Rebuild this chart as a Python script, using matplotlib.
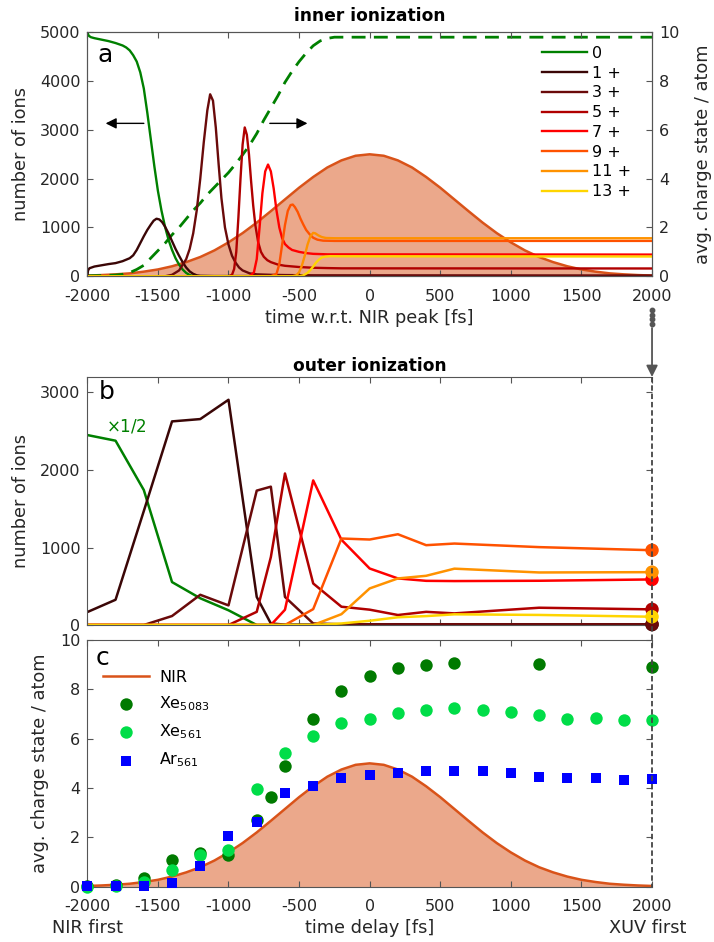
import numpy as np
import matplotlib
matplotlib.use("Agg")
import matplotlib.pyplot as plt
from matplotlib.lines import Line2D
from matplotlib.patches import FancyArrowPatch

plt.rcParams['font.family'] = ['DejaVu Sans']
plt.rcParams['mathtext.fontset'] = 'dejavusans'
plt.rcParams['axes.unicode_minus'] = False

TXT = '#262626'
AXC = '#555555'
NIR_C = '#d95319'

# ---------------- data: NIR envelope (avg. charge axis units) ----------------
t_nir = np.arange(-2000, 2001, 100)
nir = [0.03, 0.05, 0.08, 0.12, 0.19, 0.28, 0.41, 0.58, 0.79, 1.06, 1.39,
       1.77, 2.20, 2.67, 3.15, 3.63, 4.07, 4.46, 4.75, 4.94, 5.00,
       4.94, 4.75, 4.46, 4.07, 3.63, 3.15, 2.67, 2.20, 1.77, 1.39,
       1.06, 0.79, 0.58, 0.41, 0.28, 0.19, 0.12, 0.08, 0.05, 0.03]

# ---------------- data: inner ionization (panel a) ----------------
labels_a = ['0', '1 +', '3 +', '5 +', '7 +', '9 +', '11 +', '13 +']
colors = ['#008000', '#3a0606', '#6a0a0a', '#b00000', '#ff0000',
          '#ff5200', '#ff9200', '#ffd500']

t_q0 = [-2000, -1990, -1975, -1950, -1900, -1850, -1800, -1750, -1725, -1700,
        -1675, -1650, -1625, -1600, -1575, -1550, -1525, -1500, -1475, -1450,
        -1425, -1400, -1375, -1350, -1325, -1300, -1275, -1250, -1225, 2000]
n_q0 = [5000, 4930, 4900, 4880, 4850, 4820, 4780, 4730, 4690, 4630,
        4530, 4400, 4180, 3850, 3350, 2800, 2250, 1750, 1350, 1020,
        750, 540, 370, 240, 140, 70, 25, 5, 0, 0]

t_q1 = [-2000, -1995, -1985, -1950, -1900, -1850, -1800, -1750, -1700, -1675,
        -1650, -1625, -1600, -1575, -1550, -1530, -1510, -1490, -1470, -1450,
        -1425, -1400, -1375, -1350, -1325, -1300, -1275, -1250, -1225, -1200,
        -1100, 2000]
n_q1 = [0, 120, 165, 200, 225, 250, 270, 310, 370, 430,
        540, 680, 820, 950, 1060, 1140, 1180, 1165, 1110, 1020,
        880, 720, 560, 420, 290, 180, 100, 50, 20, 10,
        5, 5]

t_q3 = [-2000, -1450, -1400, -1350, -1300, -1275, -1250, -1225, -1200, -1175,
        -1150, -1130, -1110, -1090, -1070, -1050, -1025, -1000, -975, -950,
        -925, -900, -850, -800, -700, -600, -400, 2000]
n_q3 = [0, 0, 30, 120, 350, 560, 880, 1350, 2000, 2750,
        3400, 3730, 3600, 3050, 2300, 1600, 1000, 650, 420, 280,
        180, 120, 60, 40, 30, 25, 20, 15]

t_q5 = [-2000, -1000, -975, -960, -945, -930, -915, -900, -885, -870,
        -855, -840, -825, -810, -790, -770, -750, -725, -700, -650,
        -600, -500, -400, -300, -200, 2000]
n_q5 = [0, 0, 30, 150, 500, 1200, 2000, 2700, 3050, 2900,
        2500, 1950, 1450, 1050, 700, 500, 400, 330, 290, 240,
        215, 190, 175, 168, 163, 160]

t_q7 = [-2000, -850, -820, -800, -780, -760, -740, -720, -700, -680,
        -660, -640, -620, -600, -575, -550, -500, -450, -400, -300, 2000]
n_q7 = [0, 0, 80, 350, 1000, 1700, 2150, 2290, 2150, 1800,
        1350, 1000, 780, 660, 590, 540, 500, 475, 460, 450, 445]

t_q9 = [-2000, -700, -660, -640, -620, -600, -580, -560, -545, -530,
        -510, -490, -470, -450, -425, -400, -370, -330, -250, 2000]
n_q9 = [0, 0, 50, 250, 650, 1050, 1340, 1460, 1470, 1420,
        1320, 1180, 1060, 950, 860, 790, 750, 730, 725, 725]

t_q11 = [-2000, -550, -520, -500, -480, -460, -440, -420, -400, -385,
         -365, -340, -310, -250, 2000]
n_q11 = [0, 0, 20, 80, 220, 420, 650, 820, 890, 880,
         840, 805, 785, 780, 780]

t_q13 = [-2000, -500, -470, -440, -420, -400, -380, -360, -340, -310,
         -280, -200, 2000]
n_q13 = [0, 0, 20, 70, 130, 200, 280, 340, 385, 405, 412, 410, 405]

t_avg = [-2000, -1900, -1800, -1750, -1700, -1650, -1600, -1550, -1500, -1450,
         -1400, -1350, -1300, -1250, -1200, -1150, -1100, -1050, -1000, -950,
         -900, -850, -800, -750, -700, -650, -600, -550, -500, -450,
         -400, -350, -300, -250, 2000]
q_avg = [0.02, 0.03, 0.05, 0.08, 0.15, 0.28, 0.45, 0.75, 1.05, 1.35,
         1.70, 2.00, 2.35, 2.70, 3.00, 3.35, 3.65, 3.95, 4.25, 4.60,
         4.98, 5.38, 5.85, 6.40, 6.90, 7.40, 7.95, 8.40, 8.80, 9.15,
         9.45, 9.65, 9.75, 9.80, 9.80]

inner = [(t_q0, n_q0), (t_q1, n_q1), (t_q3, n_q3), (t_q5, n_q5),
         (t_q7, n_q7), (t_q9, n_q9), (t_q11, n_q11), (t_q13, n_q13)]

# ---------------- data: outer ionization (panel b) ----------------
t_out = [-2000, -1800, -1600, -1400, -1200, -1000, -800, -700, -600,
         -400, -200, 0, 200, 400, 600, 1200, 2000]
o_q0_half = [2451, 2378, 1742, 554, 345, 190, 0, 0, 0, 0, 0, 0, 0, 0, 0, 0, 0]
o_q1 = [167, 326, 1470, 2627, 2657, 2906, 362, 20, 5, 5, 5, 5, 5, 5, 5, 5, 5]
o_q3 = [0, 0, 0, 116, 390, 253, 1734, 1785, 362, 20, 10, 10, 10, 10, 10, 10, 10]
o_q5 = [0, 0, 0, 0, 0, 0, 170, 876, 1955, 536, 236, 198, 129, 170, 150, 223, 202]
o_q7 = [0, 0, 0, 0, 0, 0, 0, 0, 197, 1866, 1100, 729, 601, 570, 567, 571, 588]
o_q9 = [0, 0, 0, 0, 0, 0, 0, 0, 0, 205, 1116, 1103, 1171, 1030, 1051, 1005, 965]
o_q11 = [0, 0, 0, 0, 0, 0, 0, 0, 0, 0, 140, 472, 601, 635, 727, 678, 682]
o_q13 = [0, 0, 0, 0, 0, 0, 0, 0, 0, 0, 20, 55, 100, 115, 138, 130, 107]
outer = [o_q0_half, o_q1, o_q3, o_q5, o_q7, o_q9, o_q11, o_q13]

# ---------------- data: measured avg. charge state (panel c) ----------------
t_xe5083 = [-2000, -1800, -1600, -1400, -1200, -1000, -800, -700, -600,
            -400, -200, 0, 200, 400, 600, 1200, 2000]
q_xe5083 = [0.04, 0.07, 0.37, 1.09, 1.36, 1.29, 2.69, 3.65, 4.88,
            6.78, 7.93, 8.55, 8.88, 8.99, 9.08, 9.01, 8.92]
t_561 = [-2000, -1800, -1600, -1400, -1200, -1000, -800, -600, -400, -200,
         0, 200, 400, 600, 800, 1000, 1200, 1400, 1600, 1800, 2000]
q_xe561 = [0.0, 0.04, 0.20, 0.68, 1.27, 1.47, 3.95, 5.40, 6.10, 6.63,
           6.81, 7.03, 7.16, 7.26, 7.15, 7.08, 6.97, 6.81, 6.82, 6.74, 6.77]
q_ar561 = [0.03, 0.04, 0.04, 0.14, 0.84, 2.04, 2.63, 3.78, 4.08, 4.41,
           4.53, 4.61, 4.70, 4.70, 4.69, 4.59, 4.43, 4.41, 4.41, 4.34, 4.36]

xticks = [-2000, -1500, -1000, -500, 0, 500, 1000, 1500, 2000]

# ---------------- figure ----------------
fig = plt.figure(figsize=(7.14, 9.42), dpi=100)
L, W = 0.1223, 0.7909
ax_a = fig.add_axes([L, 0.7067, W, 0.2590])
ax_b = fig.add_axes([L, 0.3365, W, 0.2633])
ax_c = fig.add_axes([L, 0.0587, W, 0.2619])

TICK_FS = 11.5
LAB_FS = 12.8


def style(ax):
    for s in ax.spines.values():
        s.set_color(AXC)
        s.set_linewidth(0.8)
    ax.tick_params(direction='in', length=4.5, width=0.8, color=AXC,
                   labelcolor=TXT, labelsize=TICK_FS, pad=5)
    ax.tick_params(axis='x', pad=9)
    ax.set_xlim(-2000, 2000)
    ax.set_xticks(xticks)


# ---- panel a ----
twin = ax_a.twinx()
ax_a.set_zorder(twin.get_zorder() + 1)
ax_a.patch.set_visible(False)
style(ax_a)
style(twin)

twin.fill_between(t_nir, nir, 0, color=NIR_C, alpha=0.5, lw=0)
twin.plot(t_nir, nir, color=NIR_C, lw=1.8)
twin.plot(t_avg, q_avg, color='#008000', lw=2.0, ls='--', dashes=(5, 3))
twin.set_ylim(0, 10)
twin.set_yticks([0, 2, 4, 6, 8, 10])
twin.tick_params(left=False, right=True, top=False, bottom=False)
twin.set_ylabel('avg. charge state / atom', fontsize=LAB_FS, color=TXT)
twin.yaxis.set_label_coords(1.09, 0.5)
twin.yaxis.label.set_va('center')

for (t, n), c, lab in zip(inner, colors, labels_a):
    ax_a.plot(t, n, color=c, lw=1.7, label=lab)
ax_a.set_ylim(0, 5000)
ax_a.set_yticks([0, 1000, 2000, 3000, 4000, 5000])
ax_a.tick_params(top=True, right=False)
ax_a.set_ylabel('number of ions', fontsize=LAB_FS, color=TXT)
ax_a.yaxis.set_label_coords(-0.117, 0.5)
ax_a.yaxis.label.set_va('center')
ax_a.set_xlabel('time w.r.t. NIR peak [fs]', fontsize=LAB_FS, color=TXT)
ax_a.xaxis.set_label_coords(0.5, -0.172)
ax_a.xaxis.label.set_va('center')
ax_a.set_title('inner ionization', fontsize=12.3, fontweight='bold', pad=8)
ax_a.text(0.018, 0.905, 'a', transform=ax_a.transAxes, fontsize=18,
          color='k', ha='left', va='center')
ax_a.legend(loc='upper left', bbox_to_anchor=(0.805, 0.945), frameon=False,
            fontsize=TICK_FS, handlelength=2.8, handletextpad=0.35,
            labelspacing=0.3, borderpad=0, borderaxespad=0)
arr = dict(arrowstyle='-|>', color='k', lw=1.0, mutation_scale=16)
ax_a.annotate('', xy=(-1890, 3134), xytext=(-1580, 3134), arrowprops=arr)
ax_a.annotate('', xy=(-421, 3134), xytext=(-727, 3134), arrowprops=arr)

# ---- panel b ----
style(ax_b)
for vals, c in zip(outer, colors):
    ax_b.plot(t_out, vals, color=c, lw=1.8)
ax_b.scatter([t_out[-1]] * 7, [v[-1] for v in outer[1:]], s=75,
             c=colors[1:], zorder=5, clip_on=False)
ax_b.set_ylim(0, 3200)
ax_b.set_yticks([0, 1000, 2000, 3000])
ax_b.tick_params(top=True, right=True, labelbottom=False)
ax_b.spines['right'].set_visible(False)
ax_b.set_ylabel('number of ions', fontsize=LAB_FS, color=TXT)
ax_b.yaxis.set_label_coords(-0.117, 0.5)
ax_b.yaxis.label.set_va('center')
ax_b.set_title('outer ionization', fontsize=12.3, fontweight='bold', pad=4)
ax_b.text(0.02, 0.94, 'b', transform=ax_b.transAxes, fontsize=18,
          color='k', ha='left', va='center')
ax_b.text(-1865, 2560, r'$\times$1/2', color='#008000', fontsize=12,
          ha='left', va='center')

# ---- panel c ----
style(ax_c)
ax_c.fill_between(t_nir, nir, 0, color=NIR_C, alpha=0.5, lw=0)
ax_c.plot(t_nir, nir, color=NIR_C, lw=1.8, label='NIR')
ax_c.scatter(t_xe5083, q_xe5083, s=80, color='#007a00', lw=0,
             label=r'Xe$_{5083}$', zorder=3, clip_on=False)
ax_c.scatter(t_561, q_xe561, s=80, color='#00dd48', lw=0,
             label=r'Xe$_{561}$', zorder=3, clip_on=False)
ax_c.scatter(t_561, q_ar561, s=60, marker='s', color='#0000ff', lw=0,
             label=r'Ar$_{561}$', zorder=4, clip_on=False)
ax_c.set_ylim(0, 10)
ax_c.set_yticks([0, 2, 4, 6, 8, 10])
ax_c.tick_params(top=True, right=True)
ax_c.spines['right'].set_visible(False)
ax_c.set_ylabel('avg. charge state / atom', fontsize=LAB_FS, color=TXT)
ax_c.yaxis.set_label_coords(-0.084, 0.5)
ax_c.yaxis.label.set_va('center')
ax_c.set_xlabel('time delay [fs]', fontsize=LAB_FS, color=TXT)
ax_c.xaxis.set_label_coords(0.5, -0.167)
ax_c.xaxis.label.set_va('center')
ax_c.text(0.015, 0.927, 'c', transform=ax_c.transAxes, fontsize=18,
          color='k', ha='left', va='center')
ax_c.legend(loc='upper left', bbox_to_anchor=(0.028, 0.88), frameon=False,
            fontsize=TICK_FS, handlelength=2.9, handletextpad=0.6,
            labelspacing=0.6, borderpad=0, borderaxespad=0, scatterpoints=1)

fig.text(88 / 714, 1 - 928 / 942, 'NIR first', fontsize=LAB_FS, color=TXT,
         ha='center', va='center')
fig.text(648 / 714, 1 - 928 / 942, 'XUV first', fontsize=LAB_FS, color=TXT,
         ha='center', va='center')

# dashed marker line at the last delay, spanning panels b and c
xr = L + W
fig.add_artist(Line2D([xr, xr], [0.5998, 0.0587], transform=fig.transFigure,
                      color='#444444', lw=1.3, ls=(0, (3, 1.6)), zorder=10))
# link from panel a's last delay down to panel b
fig.add_artist(Line2D([xr] * 4, [1 - 310 / 942, 1 - 314.5 / 942,
                                 1 - 319 / 942, 1 - 323.5 / 942],
                      transform=fig.transFigure, ls='none', marker='o',
                      ms=3.2, color='#555555'))
fig.add_artist(FancyArrowPatch((xr, 1 - 328 / 942), (xr, 0.5998),
                               transform=fig.transFigure, arrowstyle='-|>',
                               mutation_scale=17, color='#555555', lw=1.3,
                               shrinkA=0, shrinkB=0))

fig.savefig('out.png', dpi=100)
